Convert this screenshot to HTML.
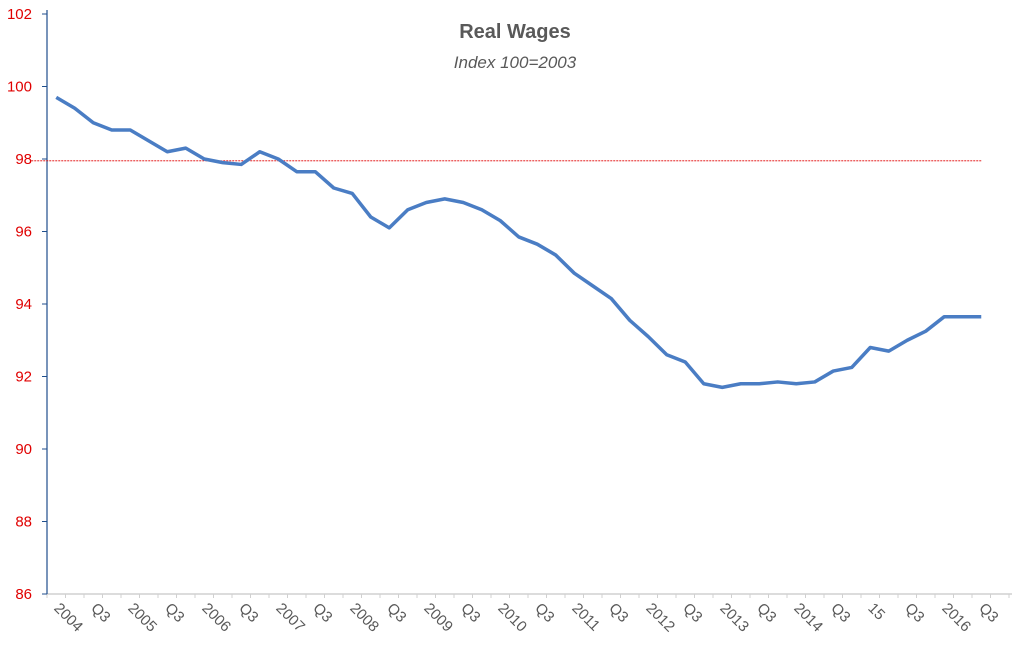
<!DOCTYPE html>
<html><head><meta charset="utf-8"><style>
body{margin:0;background:#fff;}
svg{display:block;font-family:"Liberation Sans",sans-serif;}
</style></head><body>
<svg id="chart" width="1030" height="667">
<text x="515" y="38" text-anchor="middle" font-size="20" font-weight="bold" fill="#595959">Real Wages</text>
<text x="515" y="68" text-anchor="middle" font-size="17" font-style="italic" fill="#595959">Index 100=2003</text>
<g id="axes"></g>
<g id="plot"></g>
</svg>
<script>
const labels=["2004","Q3","2005","Q3","2006","Q3","2007","Q3","2008","Q3","2009","Q3","2010","Q3","2011","Q3","2012","Q3","2013","Q3","2014","Q3","15","Q3","2016","Q3"];
const values=[99.7,99.4,99.0,98.8,98.8,98.5,98.2,98.3,98.0,97.9,97.85,98.2,98.0,97.65,97.65,97.2,97.05,96.4,96.1,96.6,96.8,96.9,96.8,96.6,96.3,95.85,95.65,95.35,94.85,94.5,94.15,93.55,93.1,92.6,92.4,91.8,91.7,91.8,91.8,91.85,91.8,91.85,92.15,92.25,92.8,92.7,93.0,93.25,93.65,93.65,93.65];
const yTicks=[86,88,90,92,94,96,98,100,102];
const refLine=97.95;
const NS="http://www.w3.org/2000/svg";
const x0=47,step=18.5,nCat=52,yTop=14,yBot=594,yMin=86,yMax=102;
const X=i=>x0+step*(i+0.5);
const Y=v=>yBot-(v-yMin)/(yMax-yMin)*(yBot-yTop);
const axes=document.getElementById('axes'),plot=document.getElementById('plot');
function mk(tag,attrs,parent){const e=document.createElementNS(NS,tag);for(const k in attrs)e.setAttribute(k,attrs[k]);parent.appendChild(e);return e;}
let e=mk('line',{x1:x0,y1:yBot,x2:1012,y2:yBot,stroke:'#d0d0d0','stroke-width':1.5},axes);


e=mk('line',{x1:x0,y1:yTop-4,x2:x0,y2:yBot,stroke:'#1f4e8c','stroke-width':1.2},axes);


for(let i=0;i<=nCat;i++){const t=mk('line',{x1:x0+step*i,y1:yBot,x2:x0+step*i,y2:yBot+4,stroke:'#d0d0d0'},axes);

}
yTicks.forEach(v=>{const y=Y(v);
const t=mk('line',{x1:x0-5,y1:y,x2:x0,y2:y,stroke:'#1f4e8c'},axes);


const l=mk('text',{x:32,y:y+5,'text-anchor':'end','font-size':15,fill:'#e00000'},axes);l.textContent=v;

});
labels.forEach((s,k)=>{const cx=X(k*2)-3,cy=609;
const l=mk('text',{x:cx,y:cy,'font-size':15,fill:'#595959',transform:`rotate(45 ${cx} ${cy})`},axes);l.textContent=s;

});
e=mk('line',{x1:X(0)-25,y1:Y(refLine),x2:X(values.length-1),y2:Y(refLine),stroke:'#e00000','stroke-width':0.8,'stroke-dasharray':'2,1'},plot);


e=mk('polyline',{points:values.map((v,i)=>X(i)+','+Y(v)).join(' '),fill:'none',stroke:'#4a7dc4','stroke-width':3.5,'stroke-linejoin':'round'},plot);


</script>
</body></html>
